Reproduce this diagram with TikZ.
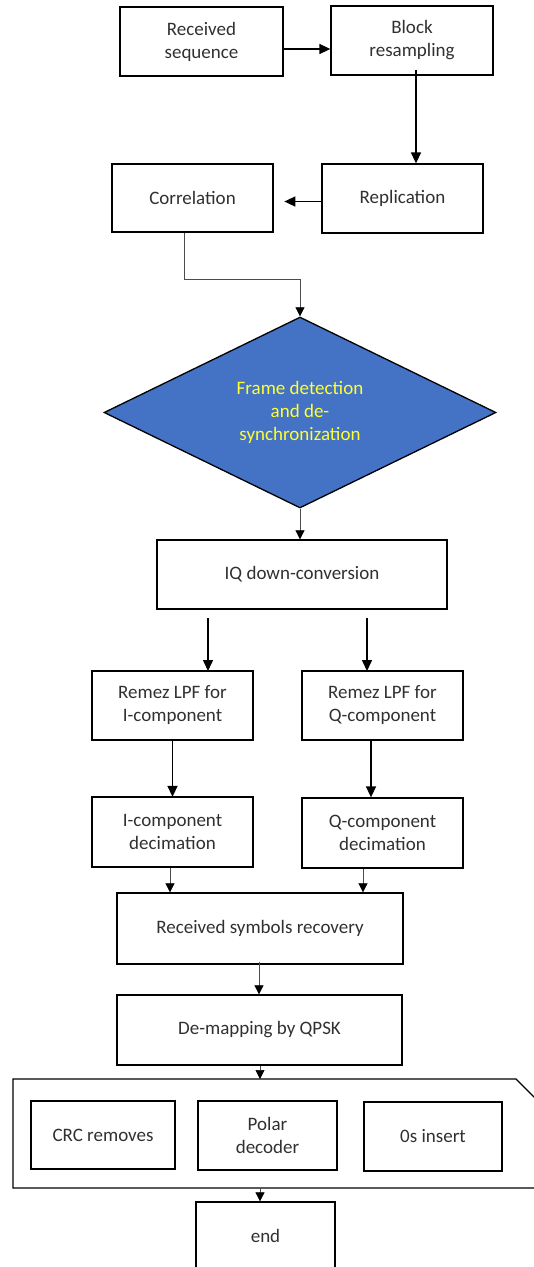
\documentclass[tikz,border=0pt]{standalone}
\usepackage{fontspec}
\setmainfont{Carlito}
\usetikzlibrary{shapes.geometric,arrows.meta}
\definecolor{txt}{HTML}{303030}
\definecolor{dblue}{HTML}{4472C4}
\definecolor{ylw}{HTML}{FFFF33}
\tikzset{
  box/.style={draw=black,line width=1.3pt,inner sep=0pt,align=center,text=txt,font=\fontsize{19}{23}\selectfont},
  thick arrow/.style={line width=1.5pt,-{Triangle[length=11pt,width=10pt]}},
  thin arrow/.style={line width=0.7pt,draw=black!70,-{Triangle[length=9pt,width=9pt,fill=black,color=black]}},
}
\begin{document}
\begin{tikzpicture}[x=1pt,y=-1pt]
\useasboundingbox (0,0) rectangle (534,1267);
\begin{scope}
\clip (0,0) rectangle (534,1267);
% nodes
\node[box,minimum width=163pt,minimum height=69pt] (recv) at (201.5,41.5) {Received\\sequence};
\node[box,minimum width=162pt,minimum height=69pt] (block) at (412,40.5) {Block\\resampling};
\node[box,minimum width=161pt,minimum height=69pt] (repl) at (402.5,198.5) {Replication};
\node[box,minimum width=161pt,minimum height=68pt] (corr) at (192.5,198) {Correlation};
\node[diamond,draw=black,line width=1.3pt,fill=dblue,inner sep=0pt,minimum width=392pt,minimum height=191pt,aspect=2.05,align=center,text=ylw,font=\fontsize{19}{23}\selectfont] (frame) at (300,412.5) {Frame detection\\and de-\\synchronization};
\node[box,minimum width=290pt,minimum height=69pt] (iq) at (302,574.5) {IQ down-conversion};
\node[box,minimum width=161pt,minimum height=69pt] (remI) at (172.5,705.5) {Remez LPF for\\I-component};
\node[box,minimum width=161pt,minimum height=69pt] (remQ) at (382.5,705.5) {Remez LPF for\\Q-component};
\node[box,minimum width=161pt,minimum height=70pt] (decI) at (172.5,832) {I-component\\decimation};
\node[box,minimum width=161pt,minimum height=70pt] (decQ) at (382.5,833) {Q-component\\decimation};
\node[box,minimum width=286pt,minimum height=71pt] (rsr) at (260,928.5) {Received symbols recovery};
\node[box,minimum width=285pt,minimum height=70pt] (demap) at (259.5,1030) {De-mapping by QPSK};
% container (snipped corner)
\draw[line width=1.3pt] (13,1079) -- (516,1079) -- (580,1143) -- (580,1188) -- (13,1188) -- cycle;
\coordinate (ctop) at (260,1079);
\coordinate (cbot) at (260,1188);
\node[box,minimum width=144pt,minimum height=68pt] (crc) at (103,1135) {CRC removes};
\node[box,minimum width=139pt,minimum height=69pt] (polar) at (267.5,1135.5) {Polar\\decoder};
\node[box,minimum width=138pt,minimum height=69pt] (zeros) at (433,1136.5) {0s insert};
\node[box,minimum width=139pt,minimum height=68pt] (endn) at (265.5,1236) {end};
% connectors
\draw[thick arrow] ([yshift=-7.5pt]recv.east) -- ([yshift=-8.5pt]block.west);
\draw[thick arrow] ([xshift=4pt,yshift=6pt]block.south) -- ([xshift=13.5pt]repl.north);
\draw[thick arrow] ([yshift=-3pt]repl.west) -- ++(-37,0);
\draw[thin arrow] ([xshift=-8.5pt]corr.south) |- (300,279) -- (frame.north);
\draw[thin arrow] (frame.south) -- ([xshift=-2pt]iq.north);
\draw[thick arrow] (208,618) -- (208,671);
\draw[thick arrow] (367,618) -- (367,671);
\draw[thick arrow] (remI.south) -- ([yshift=-0.5pt]decI.north);
\draw[thick arrow] ([xshift=-11.5pt]remQ.south) -- ([xshift=-11.5pt]decQ.north);
\draw[thin arrow] ([xshift=-2.5pt]decI.south) -- ([xshift=-90pt]rsr.north);
\draw[thin arrow] ([xshift=-19.5pt]decQ.south) -- ([xshift=103pt]rsr.north);
\draw[thin arrow] ([xshift=-1pt,yshift=3pt]rsr.south) -- ([xshift=-0.5pt]demap.north);
\draw[thin arrow] ([xshift=0.5pt]demap.south) -- (ctop);
\draw[thin arrow] (cbot) -- (endn.north -| cbot);
\end{scope}
\end{tikzpicture}
\end{document}
